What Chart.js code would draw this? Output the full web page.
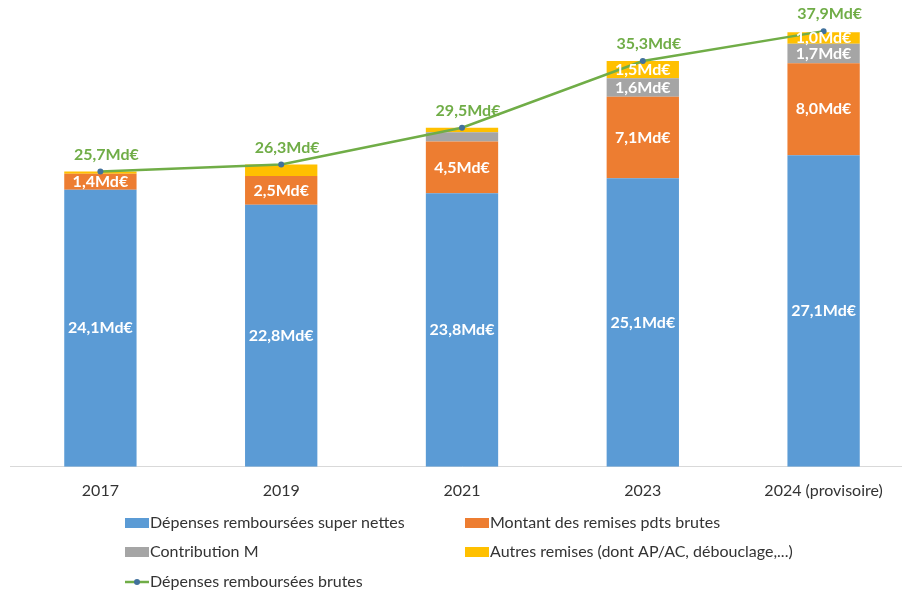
<!DOCTYPE html>
<html>
<head>
<meta charset="utf-8">
<script src="https://cdn.jsdelivr.net/npm/chart.js@4.4.1/dist/chart.umd.min.js"></script>
<style>
  html, body { margin: 0; padding: 0; background: #fff; overflow: hidden; }
  #wrap { width: 920px; height: 593px; }
</style>
</head>
<body>
<div id="wrap"><canvas id="myChart" width="920" height="593"></canvas></div>
<script>
var years = ['2017', '2019', '2021', '2023', '2024 (provisoire)'];

var superNettes = [24.1, 22.8, 23.8, 25.1, 27.1];
var remisesBrutes = [1.4, 2.5, 4.5, 7.1, 8.0];
var contributionM = [0.0, 0.0, 0.8, 1.6, 1.7];
var autresRemises = [0.2, 1.0, 0.4, 1.5, 1.0];
var depensesBrutes = [25.7, 26.3, 29.5, 35.3, 37.9];

// which segments carry a value label
var shownSuperNettes = [true, true, true, true, true];
var shownRemises = [true, true, true, true, true];
var shownContribution = [false, false, false, true, true];
var shownAutres = [false, false, false, true, true];

var FONT = 'Lato, "Open Sans", sans-serif';

function fmt (v) {
	return v.toFixed(1).replace('.', ',') + 'Md€';
}

// white labels inside the bars, green labels above the line
var valueLabels = {
	id: 'valueLabels',
	afterDatasetsDraw: function (chart) {
		var ctx = chart.ctx;
		ctx.save();
		ctx.textAlign = 'center';
		ctx.textBaseline = 'middle';
		chart.data.datasets.forEach(function (ds, di) {
			var meta = chart.getDatasetMeta(di);
			meta.data.forEach(function (el, i) {
				if (ds.type === 'line') {
					ctx.font = 'bold 16px ' + FONT;
					ctx.fillStyle = '#70AD47';
					ctx.fillText(fmt(ds.data[i]), el.x + 6, el.y - 17);
				} else if (ds.shown[i]) {
					ctx.font = 'bold 16px ' + FONT;
					ctx.fillStyle = '#ffffff';
					ctx.fillText(fmt(ds.data[i]), el.x, (el.y + el.base) / 2);
				}
			});
		});
		ctx.restore();
	}
};

// two-column legend under the axis
var gridLegend = {
	id: 'gridLegend',
	afterDraw: function (chart) {
		var ctx = chart.ctx;
		var cols = [125, 465];
		var rows = [523, 552, 582];
		ctx.save();
		ctx.font = '16px ' + FONT;
		ctx.textBaseline = 'middle';
		ctx.textAlign = 'left';
		chart.data.datasets.forEach(function (ds, i) {
			var x = cols[i % 2];
			var y = rows[Math.floor(i / 2)];
			if (ds.type === 'line') {
				ctx.strokeStyle = ds.borderColor;
				ctx.lineWidth = 2.5;
				ctx.beginPath();
				ctx.moveTo(x, y);
				ctx.lineTo(x + 24, y);
				ctx.stroke();
				ctx.fillStyle = ds.pointBackgroundColor;
				ctx.beginPath();
				ctx.arc(x + 12, y, 3, 0, Math.PI * 2);
				ctx.fill();
			} else {
				ctx.fillStyle = ds.backgroundColor;
				ctx.fillRect(x, y - 5, 24, 10);
			}
			ctx.fillStyle = '#333333';
			ctx.fillText(ds.label, x + 25, y);
		});
		ctx.restore();
	}
};

function barSet (label, values, color, shown) {
	return {
		type: 'bar',
		label: label,
		data: values,
		backgroundColor: color,
		shown: shown,
		stack: 'remb',
		order: 1,
		barPercentage: 0.4,
		categoryPercentage: 1.0
	};
}

var ctx = document.getElementById('myChart');

window.myChart = new Chart(ctx, {
	data: {
		labels: years,
		datasets: [
			barSet('Dépenses remboursées super nettes', superNettes, '#5B9BD5', shownSuperNettes),
			barSet('Montant des remises pdts brutes', remisesBrutes, '#ED7D31', shownRemises),
			barSet('Contribution M', contributionM, '#A5A5A5', shownContribution),
			barSet('Autres remises (dont AP/AC, débouclage,...)', autresRemises, '#FFC000', shownAutres),
			{
				type: 'line',
				label: 'Dépenses remboursées brutes',
				data: depensesBrutes,
				stack: 'brut',
				order: 0,
				borderColor: '#70AD47',
				borderWidth: 2.5,
				pointRadius: 3,
				pointBackgroundColor: '#41719C',
				pointBorderWidth: 0,
				tension: 0
			}
		]
	},
	options: {
		responsive: false,
		animation: false,
		layout: { padding: { left: 10, right: 6, top: 7, bottom: 87 } },
		plugins: {
			legend: { display: false },
			tooltip: { enabled: false }
		},
		scales: {
			x: {
				stacked: true,
				grid: { display: false },
				border: { display: true, color: '#D9D9D9', width: 1 },
				ticks: {
					color: '#333333',
					font: { family: FONT, size: 16 },
					padding: 6
				}
			},
			y: {
				stacked: true,
				display: false,
				min: 0,
				max: 40
			}
		}
	},
	plugins: [valueLabels, gridLegend]
});
</script>
</body>
</html>
